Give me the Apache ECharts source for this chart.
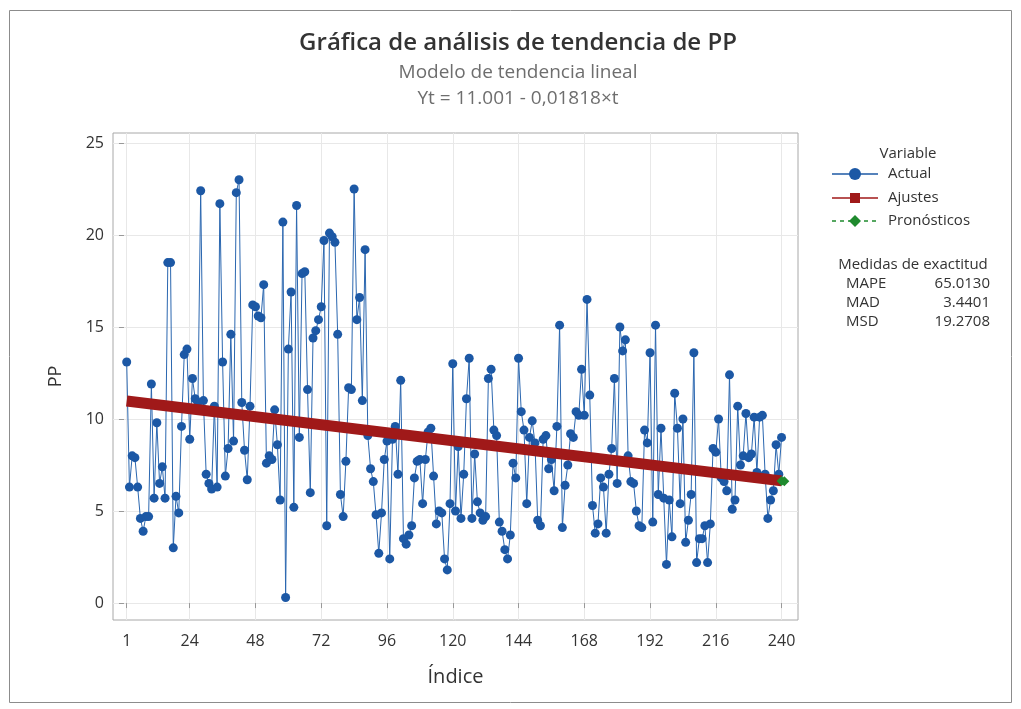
<!DOCTYPE html>
<html>
<head>
<meta charset="utf-8">
<title>Gráfica de análisis de tendencia de PP</title>
<script src="https://cdn.jsdelivr.net/npm/echarts@6/dist/echarts.min.js"></script>
<style>
  html, body { margin: 0; padding: 0; background: #fff; }
  #chart { width: 1021px; height: 709px; }
</style>
</head>
<body>
<div id="chart"></div>
<script>
  // valores de PP, por tramos de indice
  const pp001 = [13.1, 6.3, 8.0, 7.9, 6.3, 4.6, 3.9, 4.7, 4.7, 11.9, 5.7, 9.8, 6.5, 7.4, 5.7, 18.5, 18.5, 3.0, 5.8, 4.9, 9.6, 13.5, 13.8, 8.9, 12.2, 11.1, 10.9, 22.4]
  const pp029 = [11.0, 7.0, 6.5, 6.2, 10.7, 6.3, 21.7, 13.1, 6.9, 8.4, 14.6, 8.8, 22.3, 23.0, 10.9, 8.3, 6.7, 10.7, 16.2, 16.1, 15.6, 15.5, 17.3, 7.6, 8.0, 7.8, 10.5, 8.6, 5.6, 20.7, 0.3, 13.8, 16.9, 5.2]
  const pp063 = [21.6, 9.0, 17.9, 18.0, 11.6, 6.0, 14.4, 14.8, 15.4, 16.1, 19.7, 4.2, 20.1, 19.9, 19.6, 14.6, 5.9, 4.7, 7.7, 11.7, 11.6, 22.5, 15.4, 16.6, 11.0, 19.2, 9.1, 7.3, 6.6, 4.8, 2.7]
  const pp094 = [4.9, 7.8, 8.8, 2.4, 8.9, 9.6, 7.0, 12.1, 3.5, 3.2, 3.7, 4.2, 6.8, 7.7, 7.8, 5.4, 7.8, 9.3, 9.5, 6.9, 4.3, 5.0, 4.9, 2.4, 1.8, 5.4, 13.0, 5.0, 8.5, 4.6, 7.0, 11.1, 13.3]
  const pp127 = [4.6, 8.1, 5.5, 4.9, 4.5, 4.7, 12.2, 12.7, 9.4, 9.1, 4.4, 3.9, 2.9, 2.4, 3.7, 7.6, 6.8, 13.3, 10.4, 9.4, 5.4, 9.0, 9.9, 8.7, 4.5, 4.2, 8.9, 9.1, 7.3]
  const pp156 = [7.8, 6.1, 9.6, 15.1, 4.1, 6.4, 7.5, 9.2, 9.0, 10.4, 10.2, 12.7, 10.2, 16.5, 11.3, 5.3, 3.8, 4.3, 6.8, 6.3, 3.8, 7.0, 8.4, 12.2, 6.5, 15.0, 13.7, 14.3, 8.0, 6.6, 6.5]
  const pp187 = [5.0, 4.2, 4.1, 9.4, 8.7, 13.6, 4.4, 15.1, 5.9, 9.5, 5.7, 2.1, 5.6, 3.6, 11.4, 9.5, 5.4, 10.0, 3.3, 4.5, 5.9, 13.6, 2.2, 3.5, 3.5, 4.2, 2.2, 4.3, 8.4, 8.2, 10.0]
  const pp218 = [6.8, 6.6, 6.1, 12.4, 5.1, 5.6, 10.7, 7.5, 8.0, 10.3, 7.9, 8.1, 10.1, 7.1, 10.1, 10.2, 7.0, 4.6, 5.6, 6.1, 8.6, 7.0, 9.0]
  const actual = [].concat(pp001, pp029, pp063, pp094, pp127, pp156, pp187, pp218)

  // linea de tendencia (extremos) y pronostico
  const fitT = [1, 240]
  const fitVal = [10.983, 6.638]
  const forecastT = [240, 241]
  const forecastVal = [6.638, 6.620]

  const xTicks = [1, 24, 48, 72, 96, 120, 144, 168, 192, 216, 240]
  const yTicks = [0, 5, 10, 15, 20, 25]

  const medidas = ['MAPE', 'MAD', 'MSD']
  const medidasVal = ['65.0130', '3.4401', '19.2708']

  const blue = '#1c58a5'
  const red = '#a01919'
  const green = '#1f8a2e'
  const font = '"Open Sans", "Noto Sans", sans-serif'

  let myChart = echarts.init(document.getElementById('chart'))

  function txt (text, x, y, size, color, align, weight) {
    return {
      type: 'text',
      style: { text: text, x: x, y: y, textAlign: align || 'left', textVerticalAlign: 'middle', fontSize: size, fontFamily: font, fill: color, fontWeight: weight || 'normal' }
    }
  }

  let graphic = [
    // marco exterior
    { type: 'rect', shape: { x: 9.5, y: 10.5, width: 1002, height: 692 }, style: { fill: null, stroke: '#8c8c8c', lineWidth: 1 }, z: -1 },
    txt('Gráfica de análisis de tendencia de PP', 518, 43, 24, '#333', 'center', 600),
    txt('Modelo de tendencia lineal', 518, 73, 19, '#6e6e6e', 'center'),
    txt('Yt = 11.001 - 0,01818×t', 518, 99, 19, '#6e6e6e', 'center'),
    // leyenda
    txt('Variable', 908, 154, 15, '#333', 'center'),
    { type: 'line', shape: { x1: 832, y1: 174, x2: 878, y2: 174 }, style: { stroke: blue, lineWidth: 1.5 } },
    { type: 'circle', shape: { cx: 855, cy: 174, r: 6 }, style: { fill: blue } },
    txt('Actual', 888, 174, 15, '#333'),
    { type: 'line', shape: { x1: 832, y1: 198, x2: 878, y2: 198 }, style: { stroke: red, lineWidth: 1.5 } },
    { type: 'rect', shape: { x: 850, y: 193, width: 10, height: 10 }, style: { fill: red } },
    txt('Ajustes', 888, 198, 15, '#333'),
    { type: 'line', shape: { x1: 832, y1: 221, x2: 878, y2: 221 }, style: { stroke: green, lineWidth: 1.5, lineDash: [4, 4] } },
    { type: 'polygon', shape: { points: [[855, 215], [861, 221], [855, 227], [849, 221]] }, style: { fill: green } },
    txt('Pronósticos', 888, 221, 15, '#333'),
    txt('Medidas de exactitud', 913, 265, 15, '#333', 'center')
  ]
  medidas.forEach((m, i) => {
    graphic.push(txt(m, 846, 284 + i * 19, 15, '#333'))
    graphic.push(txt(medidasVal[i], 990, 284 + i * 19, 15, '#333', 'right'))
  })

  myChart.setOption({
    animation: false,
    textStyle: { fontFamily: font },
    grid: {
      left: 113, top: 133, width: 685, height: 487,
      show: true, borderColor: '#a8a8a8', borderWidth: 1, backgroundColor: '#fff'
    },
    xAxis: {
      type: 'value',
      min: -4,
      max: 246,
      name: 'Índice',
      nameLocation: 'middle',
      nameGap: 47,
      nameTextStyle: { fontSize: 20, color: '#333' },
      axisLine: { show: false },
      axisTick: { show: true, length: 5, customValues: xTicks, lineStyle: { color: '#999' } },
      axisLabel: { customValues: xTicks, fontSize: 16, color: '#333', margin: 13 },
      splitLine: { show: true, lineStyle: { color: '#e8e8e8' } }
    },
    yAxis: {
      type: 'value',
      min: -0.92,
      max: 25.54,
      name: 'PP',
      nameLocation: 'middle',
      nameGap: 48,
      nameRotate: 90,
      nameTextStyle: { fontSize: 18, color: '#333' },
      axisLine: { show: false },
      axisTick: { show: true, length: 5, customValues: yTicks, lineStyle: { color: '#999' } },
      axisLabel: { customValues: yTicks, fontSize: 16, color: '#333', margin: 9 },
      splitLine: { show: true, lineStyle: { color: '#e8e8e8' } }
    },
    graphic: graphic,
    series: [
      {
        name: 'Actual',
        type: 'line',
        data: actual.map((v, i) => [i + 1, v]),
        symbol: 'circle',
        symbolSize: 9,
        itemStyle: { color: blue },
        lineStyle: { color: '#2b67b0', width: 1 },
        z: 2
      },
      {
        name: 'Ajustes',
        type: 'line',
        data: fitT.map((t, i) => [t, fitVal[i]]),
        symbol: 'none',
        lineStyle: { color: red, width: 11 },
        z: 3
      },
      {
        name: 'Pronósticos',
        type: 'line',
        data: forecastT.map((t, i) => [t, forecastVal[i]]),
        symbol: 'diamond',
        symbolSize: 10,
        itemStyle: { color: green },
        lineStyle: { color: green, width: 4 },
        z: 4
      }
    ]
  })
</script>
</body>
</html>
